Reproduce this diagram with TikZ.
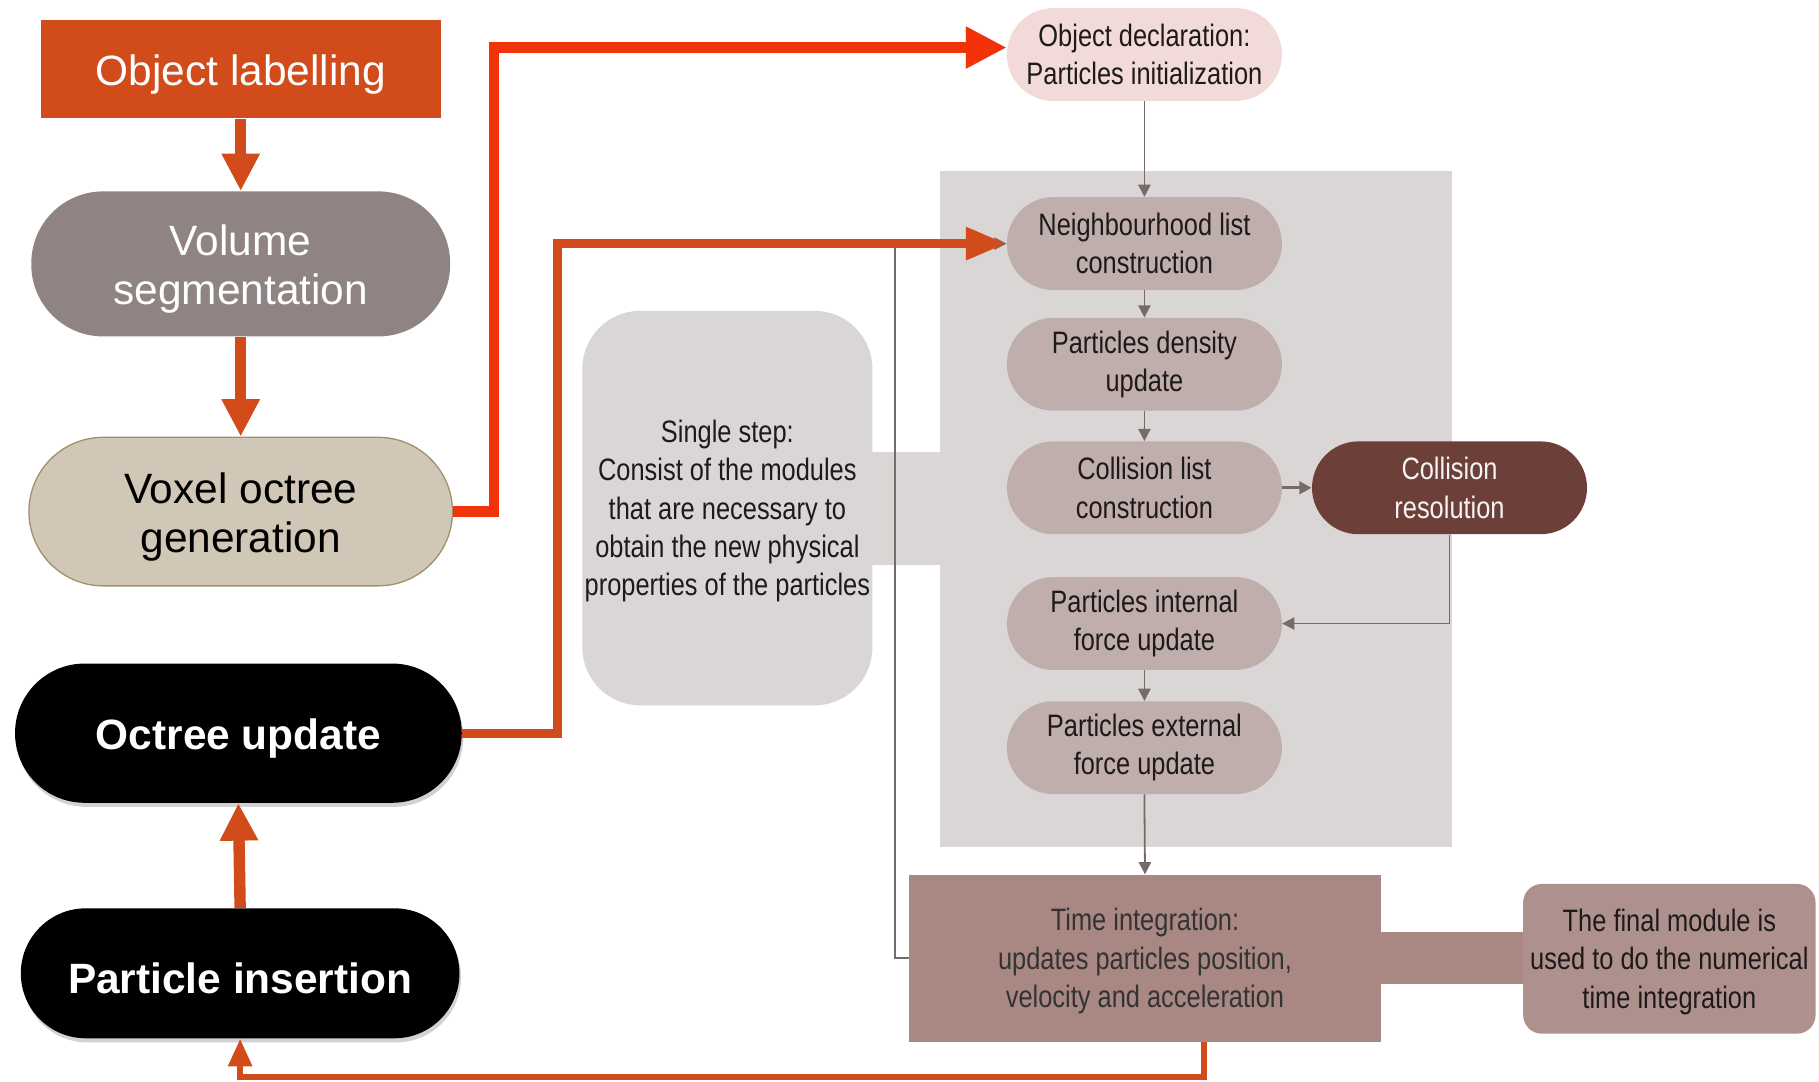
\documentclass[tikz,border=0pt]{standalone}
\usepackage{fontspec}
\setmainfont{Liberation Sans}
\newfontfamily\nf[FakeStretch=0.82]{Liberation Sans}
\usetikzlibrary{arrows.meta,shadows,calc}
\definecolor{orangeA}{HTML}{D24B1A}
\definecolor{redA}{HTML}{F2330A}
\definecolor{volc}{HTML}{8F8383}
\definecolor{voxf}{HTML}{D1C7B7}
\definecolor{voxd}{HTML}{A38F6B}
\definecolor{objdf}{HTML}{F1DAD7}
\definecolor{panelc}{HTML}{D9D6D5}
\definecolor{innerc}{HTML}{BFAEAB}
\definecolor{collrc}{HTML}{6D3F39}
\definecolor{timec}{HTML}{A98884}
\definecolor{finalc}{HTML}{AE918D}
\definecolor{grayl}{HTML}{776A6A}
\definecolor{txtc}{HTML}{1E1A1A}
\newcommand{\bigup}{\rule{0pt}{25pt}}
\newcommand{\smup}{\rule{0pt}{17.5pt}}
\begin{document}
\begin{tikzpicture}[x=0.025cm,y=-0.025cm,
  bigtxt/.style={font=\fontsize{26}{30}\selectfont, align=center, inner sep=0pt},
  smtxt/.style={font=\nf\fontsize{19}{23.5}\selectfont, align=center, inner sep=0pt, text=txtc},
  spill/.style={smtxt, rectangle, rounded corners=1cm, minimum width=5.925cm, minimum height=2cm, fill=innerc},
  blackpill/.style={bigtxt, font=\bfseries\fontsize{26}{30}\selectfont, rectangle, fill=black, text=white,
    drop shadow={shadow xshift=1pt, shadow yshift=-2.5pt, opacity=0.35}},
  oarrow/.style={draw=orangeA, line width=7pt, -{Triangle[width=22pt,length=23pt]}},
  redc/.style={draw=redA, line width=6.4pt, -{Triangle[width=24pt,length=25pt]}},
  redshadow/.style={draw=black, opacity=0.3, line width=6.4pt, -{Triangle[width=24pt,length=25pt]}},
  omid/.style={draw=orangeA, line width=5.5pt, -{Triangle[width=19pt,length=25pt]}},
  obot/.style={draw=orangeA, line width=3.8pt, -{Triangle[width=14pt,length=17pt]}},
  garrow/.style={draw=grayl, line width=1.1pt, -{Triangle[width=7.5pt,length=7.5pt]}},
]
\useasboundingbox[fill=white] (0,0) rectangle (1568,932);

% gray panel and connecting bars
\fill[panelc] (810,147) rectangle (1252,730);
\fill[panelc] (745,390) rectangle (810,487);
\fill[timec] (1185,803) rectangle (1318,848);

% left column
\node[bigtxt, rectangle, fill=orangeA, text=white, minimum width=8.625cm, minimum height=2.125cm] (objlab) at (207.5,59.5) {\bigup Object labelling};
\node[bigtxt, rectangle, rounded corners=1.55cm, fill=volc, text=white, minimum width=9.025cm, minimum height=3.125cm] (volseg) at (207.5,227.5) {\bigup Volume\\segmentation};
\node[bigtxt, rectangle, rounded corners=1.6cm, fill=voxf, draw=voxd, line width=0.8pt, text=black, minimum width=9.125cm, minimum height=3.2cm] (voxel) at (207.5,441) {\bigup Voxel octree\\generation};
\node[blackpill, rounded corners=1.5cm, minimum width=9.625cm, minimum height=3cm] (octupd) at (205.5,632) {\bigup Octree update};
\node[blackpill, rounded corners=1.4cm, minimum width=9.45cm, minimum height=2.8cm] (partins) at (207,839) {\bigup Particle insertion};

% single step note
\node[smtxt, rectangle, rounded corners=1.25cm, fill=panelc, minimum width=6.25cm, minimum height=8.5cm] (single) at (627,438)
  {\smup Single step:\\Consist of the modules\\that are necessary to\\obtain the new physical\\properties of the particles};

% right flow
\node[spill, fill=objdf] (objdecl) at (986.5,47) {Object declaration:\\Particles initialization};
\node[spill] (neigh) at (986.5,210) {Neighbourhood list\\construction};
\node[spill] (dens) at (986.5,314) {Particles density\\update};
\node[spill] (colll) at (986.5,420.5) {Collision list\\construction};
\node[spill, fill=collrc, text=white!94!collrc] (collr) at (1249.5,420.5) {Collision\\resolution};
\node[spill] (intf) at (986.5,537.5) {Particles internal\\force update};
\node[spill] (extf) at (986.5,644.5) {Particles external\\force update};
\node[smtxt, rectangle, fill=timec, text=black!80, minimum width=10.15cm, minimum height=3.6cm] (timeint) at (987,826)
  {\smup Time integration:\\updates particles position,\\velocity and acceleration};
\node[smtxt, rectangle, rounded corners=0.4cm, fill=finalc, minimum width=6.3cm, minimum height=3.225cm] (final) at (1439,826.5)
  {\smup The final module is\\used to do the numerical\\time integration};

% gray connectors
\draw[garrow] (objdecl.south) -- (neigh.north);
\draw[garrow] (neigh.south) -- (dens.north);
\draw[garrow] (dens.south) -- (colll.north);
\draw[garrow, line width=2pt] (colll.east) -- (collr.west);
\draw[garrow] (collr.south) |- (intf.east);
\draw[garrow] (intf.south) -- (extf.north);
\draw[garrow] (extf.south) -- (timeint.north);
\draw[garrow] (timeint.west) -- ++(-12,0) |- (neigh.west);

% orange / red connectors
\draw[oarrow] (objlab.south) -- (volseg.north);
\draw[oarrow] (volseg.south) -- (voxel.north);
\draw[oarrow] (partins.north) -- (octupd.south);
\begin{scope}[shift={(2.5,2.5)}]
\draw[redshadow] (voxel.east) -- ++(35,0) |- ([yshift=0.15cm]objdecl.west);
\end{scope}
\draw[redc] (voxel.east) -- ++(35,0) |- ([yshift=0.15cm]objdecl.west);
\draw[omid] (octupd.east) -- ++(82,0) |- (neigh.west);
\draw[obot] ([xshift=1.275cm]timeint.south) -- ++(0,30) -| (partins.south);
\end{tikzpicture}
\end{document}
